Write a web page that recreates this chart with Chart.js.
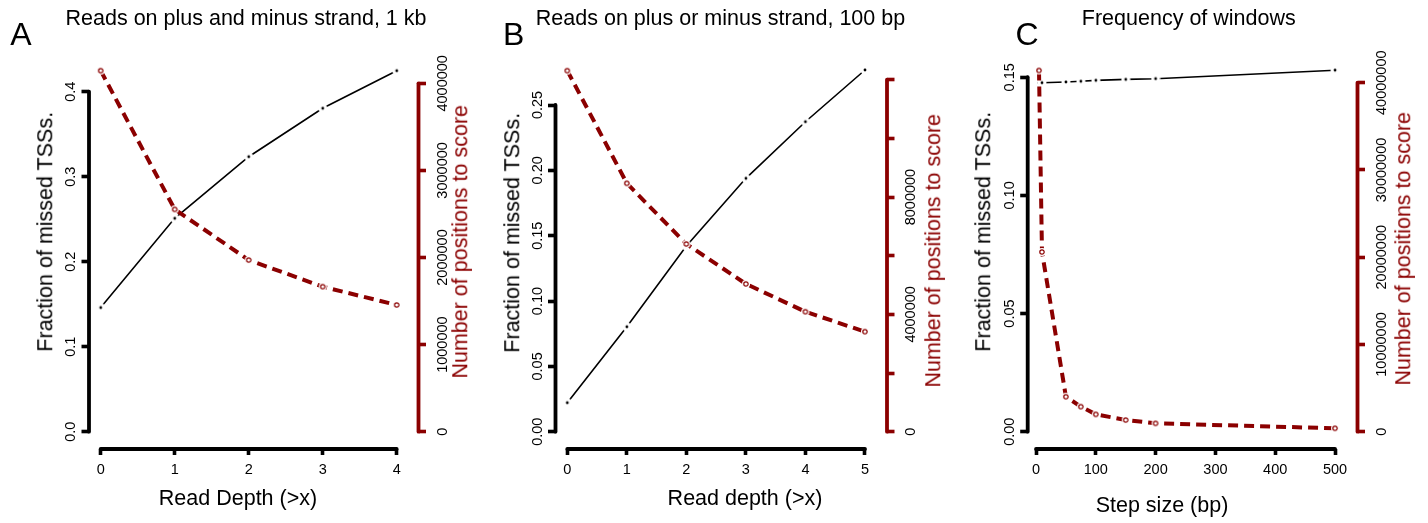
<!DOCTYPE html>
<html><head><meta charset="utf-8">
<script src="https://cdn.jsdelivr.net/npm/chart.js@4/dist/chart.umd.min.js"></script>
<style>
html,body{margin:0;padding:0;background:#fff;}
#wrap{position:relative;width:1428px;height:523px;overflow:hidden;background:#fff;font-family:"Liberation Sans",Arial,Helvetica,sans-serif;}
canvas{position:absolute;top:0;}
.t{position:absolute;white-space:nowrap;text-align:center;}
</style></head><body><div id="wrap">
<canvas id="cA" width="476" height="523" style="left:0px;width:476px;height:523px"></canvas>
<canvas id="cB" width="476" height="523" style="left:476px;width:476px;height:523px"></canvas>
<canvas id="cC" width="476" height="523" style="left:952px;width:476px;height:523px"></canvas>
</div>
<script>
// ---------- Panel A: Reads on plus and minus strand, 1 kb ----------
const xA = [0, 1, 2, 3, 4];
const missedA = [0.146, 0.251, 0.3235, 0.3805, 0.4247];
const positionsA = [4145000, 2553000, 1971000, 1665000, 1455000];
const xTicksA = [0, 1, 2, 3, 4];
const leftTicksA = [0, 0.1, 0.2, 0.3, 0.4];
const leftLabelsA = ['0.0', '0.1', '0.2', '0.3', '0.4'];
const rightTicksA = [0, 1000000, 2000000, 3000000, 4000000];
const rightLabelsA = ['0', '1000000', '2000000', '3000000', '4000000'];

// ---------- Panel B: Reads on plus or minus strand, 100 bp ----------
const xB = [0, 1, 2, 3, 4, 5];
const missedB = [0.0222, 0.0803, 0.1421, 0.1939, 0.2372, 0.2768];
const positionsB = [12310000, 8470000, 6400000, 5040000, 4090000, 3410000];
const xTicksB = [0, 1, 2, 3, 4, 5];
const leftTicksB = [0, 0.05, 0.10, 0.15, 0.20, 0.25];
const leftLabelsB = ['0.00', '0.05', '0.10', '0.15', '0.20', '0.25'];
const rightTicksB = [0, 2000000, 4000000, 6000000, 8000000, 10000000, 12000000];
const rightLabelsB = ['0', '', '4000000', '', '8000000', '', ''];

// ---------- Panel C: Frequency of windows ----------
const xC = [5, 10, 50, 75, 100, 150, 200, 500];
const missedC = [0.1476, 0.1477, 0.1480, 0.1483, 0.1487, 0.1491, 0.1494, 0.1530];
const positionsC = [41400000, 20600000, 4010000, 2870000, 1990000, 1340000, 960000, 390000];
const xTicksC = [0, 100, 200, 300, 400, 500];
const leftTicksC = [0, 0.05, 0.10, 0.15];
const leftLabelsC = ['0.00', '0.05', '0.10', '0.15'];
const rightTicksC = [0, 10000000, 20000000, 30000000, 40000000];
const rightLabelsC = ['0', '10000000', '20000000', '30000000', '40000000'];

const panelTitles = ['Reads on plus and minus strand, 1 kb', 'Reads on plus or minus strand, 100 bp', 'Frequency of windows'];
const panelLetters = ['A', 'B', 'C'];
const xTitles = ['Read Depth (>x)', 'Read depth (>x)', 'Step size (bp)'];
const leftTitle = 'Fraction of missed TSSs.';
const rightTitle = 'Number of positions to score';

const FONT = '"Liberation Sans", Arial, Helvetica, sans-serif';
const DARKRED = '#8B0000';

function ptCanvas(size, draw) {
  const c = document.createElement('canvas');
  c.width = size; c.height = size;
  draw(c.getContext('2d'), size / 2);
  return c;
}
const blackPt = ptCanvas(10, (g, m) => {
  g.fillStyle = '#fff'; g.beginPath(); g.arc(m, m, 4.5, 0, 2 * Math.PI); g.fill();
  g.fillStyle = '#000'; g.beginPath(); g.arc(m, m, 1.4, 0, 2 * Math.PI); g.fill();
});
const redPt = ptCanvas(10, (g, m) => {
  g.fillStyle = '#fff'; g.beginPath(); g.arc(m, m, 4, 0, 2 * Math.PI); g.fill();
  g.strokeStyle = DARKRED; g.lineWidth = 1.2; g.beginPath(); g.arc(m, m, 2.2, 0, 2 * Math.PI); g.stroke();
});

// R-style axes: line spanning first..last tick, rotated y tick labels
const rAxes = {
  id: 'rAxes',
  afterDraw(chart, args, o) {
    const ctx = chart.ctx, ca = chart.chartArea;
    const sx = chart.scales.x, sy = chart.scales.y, sr = chart.scales.y2;
    ctx.save();
    ctx.lineCap = 'round';
    ctx.lineWidth = 3.8;
    const seg = (x1, y1, x2, y2, c) => { ctx.strokeStyle = c; ctx.beginPath(); ctx.moveTo(x1, y1); ctx.lineTo(x2, y2); ctx.stroke(); };
    const xt = sx.ticks, yt = sy.ticks, rt = sr.ticks;
    seg(sx.getPixelForValue(xt[0].value), ca.bottom, sx.getPixelForValue(xt[xt.length - 1].value), ca.bottom, '#000');
    seg(ca.left, sy.getPixelForValue(yt[0].value), ca.left, sy.getPixelForValue(yt[yt.length - 1].value), '#000');
    seg(ca.right, sr.getPixelForValue(rt[0].value), ca.right, sr.getPixelForValue(rt[rt.length - 1].value), DARKRED);
    ctx.fillStyle = '#000';
    ctx.font = '14.5px ' + FONT;
    ctx.textAlign = 'center';
    ctx.textBaseline = 'alphabetic';
    yt.forEach((t, i) => {
      const lab = o.leftLabels[i]; if (!lab) return;
      ctx.save(); ctx.translate(ca.left - 14, sy.getPixelForValue(t.value)); ctx.rotate(-Math.PI / 2); ctx.fillText(lab, 0, 0); ctx.restore();
    });
    rt.forEach((t, i) => {
      const lab = o.rightLabels[i]; if (!lab) return;
      ctx.save(); ctx.translate(ca.right + 28, sr.getPixelForValue(t.value)); ctx.rotate(-Math.PI / 2); ctx.fillText(lab, 0, 0); ctx.restore();
    });
    ctx.restore();
  }
};

function buildPanel(id, p) {
  const tickGrid = (c, len) => ({ display: true, drawOnChartArea: false, drawTicks: true, tickLength: len, tickWidth: 3.6, tickColor: c, color: c });
  return new Chart(document.getElementById(id), {
    type: 'line',
    data: {
      datasets: [
        {
          label: rightTitle, yAxisID: 'y2', order: 0,
          data: p.x.map((v, i) => ({ x: v, y: p.pos[i] })),
          borderColor: DARKRED, borderWidth: 4, borderDash: [10, 6], borderCapStyle: 'butt',
          pointStyle: redPt, pointRadius: 5, tension: 0, clip: false
        },
        {
          label: leftTitle, yAxisID: 'y', order: 1,
          data: p.x.map((v, i) => ({ x: v, y: p.missed[i] })),
          borderColor: '#000', borderWidth: 1.6,
          pointStyle: blackPt, pointRadius: 5, tension: 0, clip: false
        }
      ]
    },
    options: {
      responsive: false, animation: false, devicePixelRatio: 1,
      layout: { padding: p.pad },
      plugins: { legend: { display: false }, tooltip: { enabled: false }, rAxes: { leftLabels: p.leftLabels, rightLabels: p.rightLabels } },
      scales: {
        x: {
          type: 'linear', position: 'bottom', min: p.xlim[0], max: p.xlim[1], bounds: 'data',
          afterBuildTicks: s => { s.ticks = p.xTicks.map(v => ({ value: v })); },
          afterFit: s => { s.height = 40; },
          grid: tickGrid('#000', 6), border: { display: false },
          ticks: { font: { family: FONT, size: 14.5 }, color: '#000', padding: 6, maxRotation: 0, autoSkip: false, callback: v => String(v) }
        },
        y: {
          type: 'linear', position: 'left', min: p.ylim[0], max: p.ylim[1], bounds: 'data',
          afterBuildTicks: s => { s.ticks = p.leftTicks.map(v => ({ value: v })); },
          afterFit: s => { s.width = 40; },
          grid: tickGrid('#000', 7.5), border: { display: false },
          ticks: { display: false }
        },
        y2: {
          type: 'linear', position: 'right', min: p.rlim[0], max: p.rlim[1], bounds: 'data',
          afterBuildTicks: s => { s.ticks = p.rightTicks.map(v => ({ value: v })); },
          afterFit: s => { s.width = 40; },
          grid: tickGrid(DARKRED, 7.5), border: { display: false },
          ticks: { display: false }
        }
      }
    },
    plugins: [rAxes]
  });
}

buildPanel('cA', { x: xA, missed: missedA, pos: positionsA, xTicks: xTicksA, leftTicks: leftTicksA, leftLabels: leftLabelsA, rightTicks: rightTicksA, rightLabels: rightLabelsA,
  xlim: [-0.158, 4.2946], ylim: [-0.02035, 0.442], rlim: [-198600, 4313500], pad: { left: 49, right: 17.5, top: 56, bottom: 34 } });
buildPanel('cB', { x: xB, missed: missedB, pos: positionsB, xTicks: xTicksB, leftTicks: leftTicksB, leftLabels: leftLabelsB, rightTicks: rightTicksB, rightLabels: rightLabelsB,
  xlim: [-0.198, 5.370], ylim: [-0.01324, 0.2875], rlim: [-590000, 12810000], pad: { left: 39.5, right: 25, top: 56, bottom: 34 } });
buildPanel('cC', { x: xC, missed: missedC, pos: positionsC, xTicks: xTicksC, leftTicks: leftTicksC, leftLabels: leftLabelsC, rightTicks: rightTicksC, rightLabels: rightLabelsC,
  xlim: [-13.9, 537.6], ylim: [-0.00732, 0.1590], rlim: [-1983000, 43060000], pad: { left: 35.7, right: 30.5, top: 56, bottom: 34 } });

// ---------- HTML text (titles, letters, axis titles) ----------
const wrap = document.getElementById('wrap');
function hText(txt, cx, baseline, size, color) {
  const d = document.createElement('div');
  d.className = 't'; d.textContent = txt;
  d.style.cssText += `left:${cx - 300}px;width:600px;top:${baseline - 0.8465 * size}px;font-size:${size}px;line-height:${size}px;color:${color || '#000'}`;
  wrap.appendChild(d);
}
function vText(txt, baselineX, cy, size, color) {
  const d = document.createElement('div');
  d.className = 't'; d.textContent = txt;
  const cx = baselineX - 0.3465 * size;
  d.style.cssText += `left:${cx - 300}px;width:600px;top:${cy - size / 2}px;height:${size}px;font-size:${size}px;line-height:${size}px;color:${color || '#000'};transform:rotate(-90deg);transform-origin:50% 50%`;
  wrap.appendChild(d);
}
const titleCx = [246, 720.5, 1188.8];
const letterCx = [21, 513.7, 1027];
const xTitleCx = [238, 745, 1162];
const xTitleBase = [506, 506, 513];
const leftTitleBase = [53, 520, 991.7];
const leftTitleCy = [231.5, 232.5, 231.7];
const rightTitleBase = [468, 941.5, 1411];
const rightTitleCy = [241.7, 250.8, 248.3];
for (let i = 0; i < 3; i++) {
  hText(panelTitles[i], titleCx[i], 26, 21.5);
  hText(panelLetters[i], letterCx[i], 45, 32);
  hText(xTitles[i], xTitleCx[i], xTitleBase[i], 21.5);
  vText(leftTitle, leftTitleBase[i], leftTitleCy[i], 21.5);
  vText(rightTitle, rightTitleBase[i], rightTitleCy[i], 21.5, DARKRED);
}
</script></body></html>
